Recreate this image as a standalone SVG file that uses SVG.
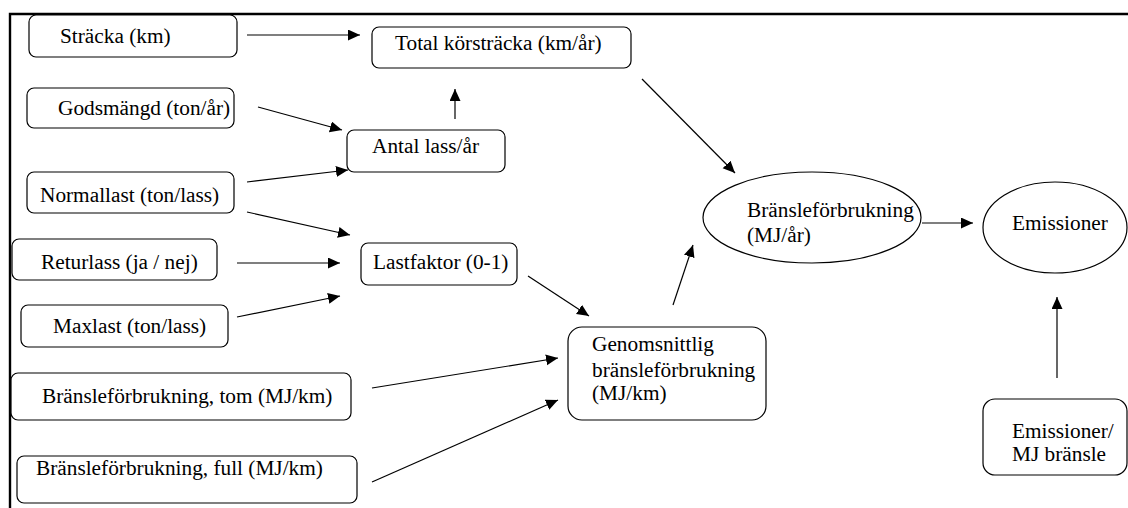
<svg xmlns="http://www.w3.org/2000/svg" width="1128" height="508" viewBox="0 0 1128 508">
  <style>
    .box { fill: #fff; stroke: #000; stroke-width: 1.2; }
    .lbl { font-family: 'Liberation Serif', 'DejaVu Serif', serif; font-size: 21.3px; fill: #000; }
    .edge { stroke: #000; stroke-width: 1.2; fill: none; marker-end: url(#arrow); }
    .frame { stroke: #000; stroke-width: 2.4; fill: none; }
  </style>
  <defs>
    <marker id="arrow" markerUnits="userSpaceOnUse" markerWidth="14" markerHeight="12" refX="12" refY="5.5" orient="auto">
      <path d="M0,0 L12,5.5 L0,11 Z" fill="#000"/>
    </marker>
  </defs>

  <rect width="1128" height="508" fill="#fff"/>
  <!-- page frame: top and left edges only -->
  <path class="frame" d="M1128,14 H10 V508"/>

  <g id="connectors">
    <line class="edge" x1="247" y1="35" x2="360" y2="35"/>
    <line class="edge" x1="258" y1="107" x2="342" y2="130"/>
    <line class="edge" x1="455" y1="119" x2="455" y2="89"/>
    <line class="edge" x1="247" y1="182" x2="348" y2="170"/>
    <line class="edge" x1="247" y1="212" x2="350" y2="235"/>
    <line class="edge" x1="237" y1="263" x2="340" y2="263"/>
    <line class="edge" x1="237" y1="317" x2="340" y2="296"/>
    <line class="edge" x1="528" y1="276" x2="589" y2="316"/>
    <line class="edge" x1="372" y1="388" x2="558" y2="358"/>
    <line class="edge" x1="372" y1="482" x2="558" y2="400"/>
    <line class="edge" x1="673" y1="305" x2="693" y2="245"/>
    <line class="edge" x1="642" y1="79" x2="735" y2="173"/>
    <line class="edge" x1="922" y1="223" x2="973" y2="223"/>
    <line class="edge" x1="1057" y1="378" x2="1057" y2="297"/>
  </g>

  <g id="stracka">
    <rect class="box" x="29" y="15" width="208" height="42" rx="7"/>
    <text class="lbl" x="60" y="43">Sträcka (km)</text>
  </g>
  <g id="godsmangd">
    <rect class="box" x="27" y="88" width="207" height="40" rx="7"/>
    <text class="lbl" x="58" y="115">Godsmängd (ton/år)</text>
  </g>
  <g id="normallast">
    <rect class="box" x="27" y="172" width="207" height="41" rx="7"/>
    <text class="lbl" x="40" y="202">Normallast (ton/lass)</text>
  </g>
  <g id="returlass">
    <rect class="box" x="12" y="239" width="205" height="41" rx="7"/>
    <text class="lbl" x="41" y="269">Returlass (ja / nej)</text>
  </g>
  <g id="maxlast">
    <rect class="box" x="21" y="305" width="207" height="42" rx="7"/>
    <text class="lbl" x="53" y="333">Maxlast (ton/lass)</text>
  </g>
  <g id="bransle-tom">
    <rect class="box" x="11" y="373" width="340" height="47" rx="7"/>
    <text class="lbl" x="42" y="403">Bränsleförbrukning, tom (MJ/km)</text>
  </g>
  <g id="bransle-full">
    <rect class="box" x="17" y="456" width="340" height="47" rx="7"/>
    <text class="lbl" x="36" y="475">Bränsleförbrukning, full (MJ/km)</text>
  </g>
  <g id="total-korstracka">
    <rect class="box" x="372" y="27" width="259" height="41" rx="7"/>
    <text class="lbl" x="395" y="50">Total körsträcka (km/år)</text>
  </g>
  <g id="antal-lass">
    <rect class="box" x="347" y="130" width="158" height="42" rx="7"/>
    <text class="lbl" x="372" y="153">Antal lass/år</text>
  </g>
  <g id="lastfaktor">
    <rect class="box" x="361" y="243" width="156" height="42" rx="7"/>
    <text class="lbl" x="373" y="269">Lastfaktor (0-1)</text>
  </g>
  <g id="genomsnittlig">
    <rect class="box" x="568" y="327" width="198" height="93" rx="14"/>
    <text class="lbl" x="592" y="351">Genomsnittlig</text>
    <text class="lbl" x="592" y="377">bränsleförbrukning</text>
    <text class="lbl" x="592" y="400">(MJ/km)</text>
  </g>
  <g id="bransleforbrukning">
    <ellipse class="box" cx="812" cy="217.5" rx="109" ry="45.5"/>
    <text class="lbl" x="747" y="217">Bränsleförbrukning</text>
    <text class="lbl" x="747" y="242">(MJ/år)</text>
  </g>
  <g id="emissioner">
    <ellipse class="box" cx="1055" cy="227.5" rx="72" ry="45.5"/>
    <text class="lbl" x="1012" y="230">Emissioner</text>
  </g>
  <g id="emissioner-per-mj">
    <rect class="box" x="983" y="399" width="144" height="76" rx="12"/>
    <text class="lbl" x="1012" y="438">Emissioner/</text>
    <text class="lbl" x="1012" y="461">MJ bränsle</text>
  </g>
</svg>
